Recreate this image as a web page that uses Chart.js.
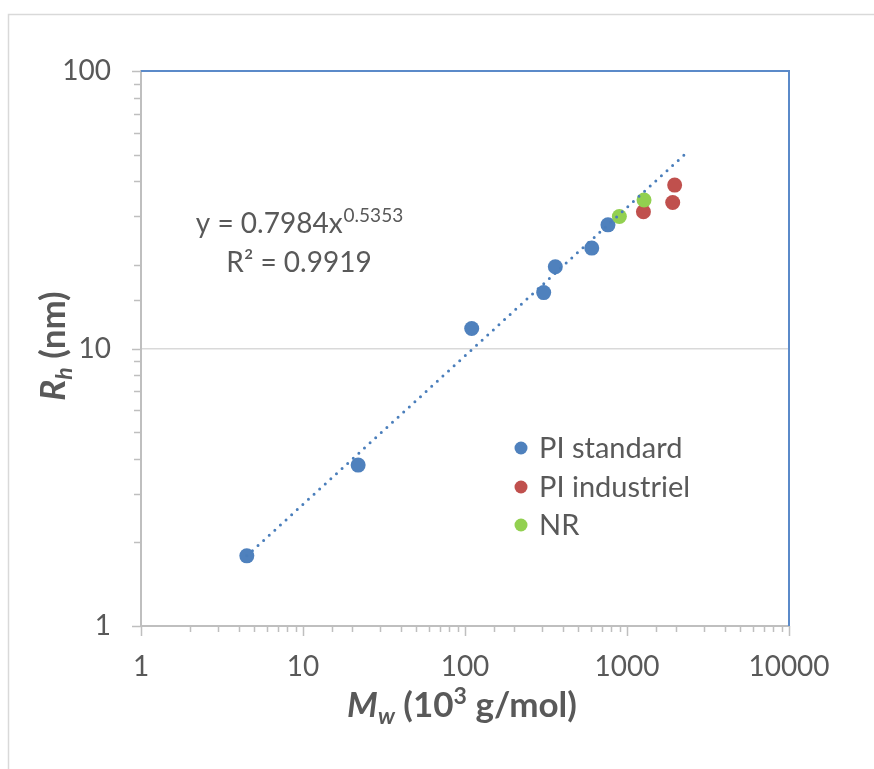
<!DOCTYPE html>
<html><head><meta charset="utf-8">
<script src="https://cdn.jsdelivr.net/npm/chart.js@4.4.1/dist/chart.umd.min.js"></script>
<style>html,body{margin:0;padding:0;background:#fff}#wrap{width:874px;height:769px;position:relative}</style>
</head><body><div id="wrap"><canvas id="c"></canvas></div>
<script>
const xTickLabels = ['1', '10', '100', '1000', '10000'];
const yTickLabels = ['1', '10', '100'];
const seriesNames = ['PI standard', 'PI industriel', 'NR'];
const piStandardMw = [4.5, 21.9, 110, 306, 361, 606, 763];
const piStandardRh = [1.79, 3.80, 11.8, 15.9, 19.7, 23.0, 27.9];
const piIndustrielMw = [1263, 1915, 1969];
const piIndustrielRh = [31.1, 33.6, 38.8];
const nrMw = [897, 1274];
const nrRh = [29.9, 34.3];
const trendMw = [4.5, 2260];
const trendRh = [1.79, 49.9];
const eqMain = 'y = 0.7984x';
const eqExp = '0.5353';
const eqR2 = 'R² = 0.9919';

const toPts = (xs, ys) => xs.map((x, i) => ({x: x, y: ys[i]}));
const FONT = 'Lato, "Open Sans", sans-serif';
const TXT = '#595959';
const colors = ['#4F81BD', '#C0504D', '#92D050'];

const isPow10 = v => Math.abs(Math.log10(v) - Math.round(Math.log10(v))) < 1e-9;

const decor = {
  id: 'decor',
  beforeDraw(chart) {
    const ctx = chart.ctx;
    ctx.save();
    ctx.fillStyle = '#fff';
    ctx.fillRect(0, 0, chart.width, chart.height);
    ctx.strokeStyle = '#D9D9D9';
    ctx.lineWidth = 1.5;
    ctx.strokeRect(8.5, 14.5, 900, 800);
    ctx.restore();
  },
  beforeDatasetsDraw(chart) {
    const ctx = chart.ctx, a = chart.chartArea;
    const xs = chart.scales.x, ys = chart.scales.y;
    ctx.save();
    ctx.strokeStyle = '#BFBFBF';
    ctx.lineWidth = 1.5;
    xs.ticks.forEach(t => {
      const px = Math.round(xs.getPixelForValue(t.value)) + 0.5;
      const len = isPow10(t.value) ? 10 : 6;
      ctx.beginPath(); ctx.moveTo(px, a.bottom); ctx.lineTo(px, a.bottom + len); ctx.stroke();
    });
    ys.ticks.forEach(t => {
      const py = Math.round(ys.getPixelForValue(t.value)) + 0.5;
      const len = isPow10(t.value) ? 9 : 7;
      ctx.beginPath(); ctx.moveTo(a.left - len, py); ctx.lineTo(a.left, py); ctx.stroke();
    });
    ctx.strokeStyle = '#5B8AC9';
    ctx.lineWidth = 2;
    ctx.beginPath();
    ctx.moveTo(a.left, a.top); ctx.lineTo(a.right, a.top); ctx.lineTo(a.right, a.bottom);
    ctx.stroke();
    ctx.restore();
  },
  afterDraw(chart) {
    const ctx = chart.ctx;
    ctx.save();
    ctx.fillStyle = TXT;
    ctx.textBaseline = 'alphabetic';
    const fMain = '28px ' + FONT, fSup = '19px ' + FONT;
    ctx.font = fMain; const w1 = ctx.measureText(eqMain).width;
    ctx.font = fSup; const w2 = ctx.measureText(eqExp).width;
    let x0 = 299 - (w1 + w2) / 2;
    ctx.font = fMain; ctx.textAlign = 'left';
    ctx.fillText(eqMain, x0, 233);
    ctx.font = fSup; ctx.fillText(eqExp, x0 + w1 + 1, 222);
    ctx.font = fMain; ctx.textAlign = 'center';
    ctx.fillText(eqR2, 299, 272);

    ctx.textAlign = 'left'; ctx.textBaseline = 'middle';
    ctx.font = '29px ' + FONT;
    const rows = [448, 487, 525];
    chart.data.datasets.slice(0, 3).forEach((ds, i) => {
      ctx.fillStyle = ds.backgroundColor;
      ctx.beginPath(); ctx.arc(521, rows[i], 6.5, 0, Math.PI * 2); ctx.fill();
      ctx.fillStyle = TXT;
      ctx.fillText(ds.label, 539, rows[i] + 1);
    });

    ctx.textBaseline = 'alphabetic';
    const big = 35, small = 23;
    const runsX = [
      {t: 'M', f: 'italic bold ' + big + 'px ' + FONT, dy: 0},
      {t: 'w', f: 'italic bold ' + small + 'px ' + FONT, dy: 7},
      {t: ' (10', f: 'bold ' + big + 'px ' + FONT, dy: 0},
      {t: '3', f: 'bold ' + small + 'px ' + FONT, dy: -13},
      {t: ' g/mol)', f: 'bold ' + big + 'px ' + FONT, dy: 0}
    ];
    drawRuns(ctx, runsX, 462, 717);
    ctx.translate(65, 346);
    ctx.rotate(-Math.PI / 2);
    const runsY = [
      {t: 'R', f: 'italic bold ' + big + 'px ' + FONT, dy: 0},
      {t: 'h', f: 'italic bold ' + small + 'px ' + FONT, dy: 7},
      {t: ' (nm)', f: 'bold ' + big + 'px ' + FONT, dy: 0}
    ];
    drawRuns(ctx, runsY, 0, 0);
    ctx.restore();
  }
};

function drawRuns(ctx, runs, cx, by) {
  let total = 0;
  runs.forEach(r => { ctx.font = r.f; r.w = ctx.measureText(r.t).width; total += r.w; });
  let x = cx - total / 2;
  ctx.textAlign = 'left';
  ctx.fillStyle = TXT;
  runs.forEach(r => { ctx.font = r.f; ctx.fillText(r.t, x, by + r.dy); x += r.w; });
}

const labelFor = (arr) => (v) => { const s = arr.find(l => Number(l) === v); return s === undefined ? '' : s; };

new Chart(document.getElementById('c'), {
  type: 'scatter',
  data: {
    datasets: [
      {label: seriesNames[0], data: toPts(piStandardMw, piStandardRh), backgroundColor: colors[0], borderColor: colors[0], pointRadius: 7.5, pointBorderWidth: 0, order: 3},
      {label: seriesNames[1], data: toPts(piIndustrielMw, piIndustrielRh), backgroundColor: colors[1], borderColor: colors[1], pointRadius: 7.5, pointBorderWidth: 0, order: 2},
      {label: seriesNames[2], data: toPts(nrMw, nrRh), backgroundColor: colors[2], borderColor: colors[2], pointRadius: 7.5, pointBorderWidth: 0, order: 1},
      {label: 'trend', data: toPts(trendMw, trendRh), showLine: true, pointRadius: 0, borderColor: '#4A7EBB', backgroundColor: '#4A7EBB', borderWidth: 3, borderDash: [0, 7.6], borderCapStyle: 'round', order: 0}
    ]
  },
  options: {
    responsive: true, maintainAspectRatio: false, animation: false,
    layout: {padding: {top: 71, right: 85, left: 0, bottom: 0}},
    plugins: {legend: {display: false}, tooltip: {enabled: false}},
    scales: {
      x: {
        type: 'logarithmic', min: 1, max: 10000,
        afterFit: s => { s.height = 143; },
        border: {display: true, color: '#BFBFBF', width: 2},
        grid: {drawTicks: false, color: 'rgba(0,0,0,0)'},
        ticks: {autoSkip: false, maxRotation: 0, padding: 24, color: TXT, font: {family: FONT, size: 28}, callback: labelFor(xTickLabels)}
      },
      y: {
        type: 'logarithmic', min: 1, max: 100,
        afterFit: s => { s.width = 141; },
        border: {display: true, color: '#BFBFBF', width: 2},
        grid: {drawTicks: false, lineWidth: 1.5, color: c => (c.tick && c.tick.value === 10) ? '#D9D9D9' : 'rgba(0,0,0,0)'},
        ticks: {autoSkip: false, padding: 30, color: TXT, font: {family: FONT, size: 28}, callback: labelFor(yTickLabels)}
      }
    }
  },
  plugins: [decor]
});
</script></body></html>
